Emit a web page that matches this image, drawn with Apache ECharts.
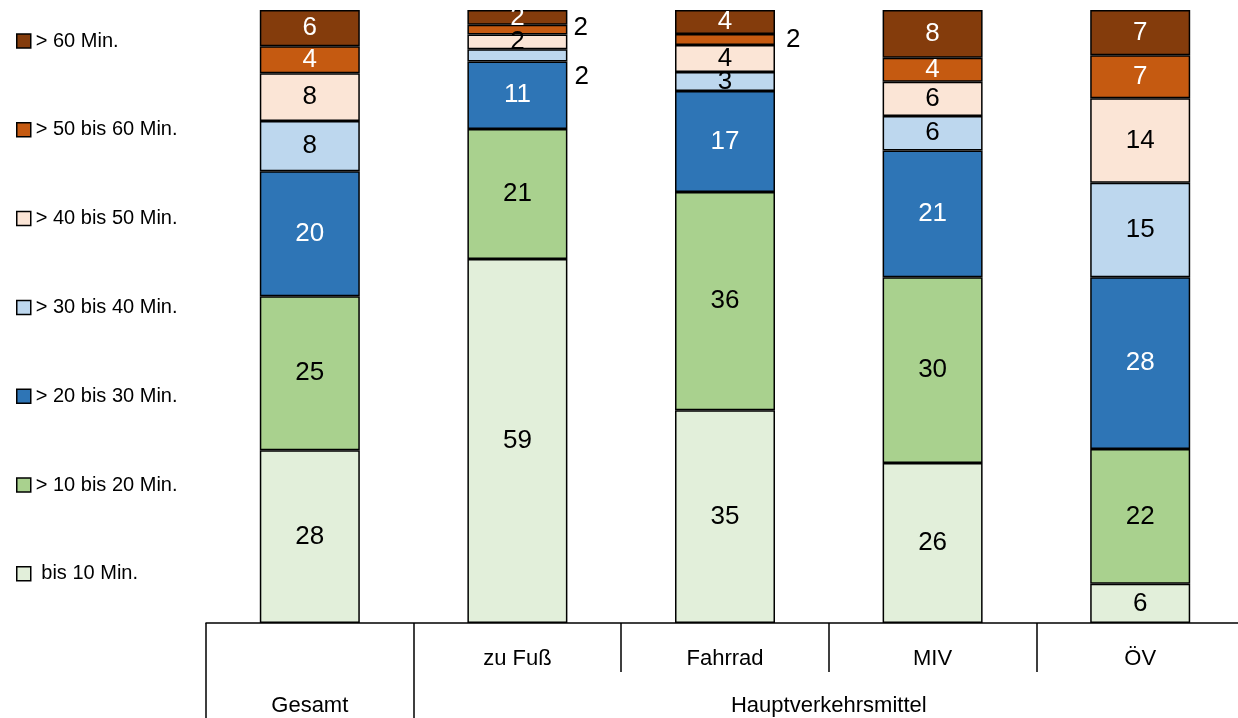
<!DOCTYPE html>
<html>
<head>
<meta charset="utf-8">
<script src="https://cdn.jsdelivr.net/npm/echarts@6/dist/echarts.min.js"></script>
<style>
  html, body { margin: 0; padding: 0; background: #fff; }
  #chart { width: 1238px; height: 718px; }
</style>
</head>
<body>
<div id="chart"></div>
<script>
// Kategorien (untere Achse)
const categories = ['Gesamt', 'zu Fuß', 'Fahrrad', 'MIV', 'ÖV']
const topLabels = ['', 'zu Fuß', 'Fahrrad', 'MIV', 'ÖV']
const groupLabels = ['Gesamt', 'Hauptverkehrsmittel']

// Anteile in % (aus dem Bild geschätzt, Beschriftung gerundet)
const bis10 = [28.2, 59.4, 34.7, 26.1, 6.4]
const bis20 = [25.1, 21.2, 35.6, 30.3, 22.0]
const bis30 = [20.4, 11.0, 16.5, 20.7, 28.0]
const bis40 = [8.2, 2.0, 3.1, 5.6, 15.4]
const bis50 = [7.8, 2.4, 4.4, 5.6, 13.8]
const bis60 = [4.4, 1.6, 1.8, 3.9, 7.0]
const ueber60 = [5.9, 2.4, 3.9, 7.8, 7.4]

const FONT = "'Liberation Sans', Arial, sans-serif"

const seriesDef = [
  { name: 'bis 10 Min.', data: bis10, color: '#E2EFDA', text: '#000' },
  { name: '> 10 bis 20 Min.', data: bis20, color: '#A9D18E', text: '#000' },
  { name: '> 20 bis 30 Min.', data: bis30, color: '#2E75B6', text: '#fff' },
  { name: '> 30 bis 40 Min.', data: bis40, color: '#BDD7EE', text: '#000' },
  { name: '> 40 bis 50 Min.', data: bis50, color: '#FBE5D6', text: '#000' },
  { name: '> 50 bis 60 Min.', data: bis60, color: '#C55A11', text: '#fff' },
  { name: '> 60 Min.', data: ueber60, color: '#843C0C', text: '#fff' },
]

// kleine Segmente: Beschriftung rechts neben dem Balken
// [Serie, Kategorie, offset]
const outside = [
  [5, 1, [1, -2]],
  [3, 1, [2, 21]],
  [5, 2, [6, 0]],
]

const chart = echarts.init(document.getElementById('chart'))

const series = seriesDef.map((s, si) => ({
  name: s.name,
  type: 'bar',
  stack: 'all',
  barWidth: 100,
  itemStyle: { color: s.color, borderColor: '#000', borderWidth: 1.5 },
  label: {
    show: true,
    position: 'inside',
    color: s.text,
    fontFamily: FONT,
    fontSize: 26,
    formatter: (p) => Math.round(p.value),
  },
  data: s.data.map((v, ci) => {
    const o = outside.find((x) => x[0] === si && x[1] === ci)
    if (!o) return v
    return {
      value: v,
      label: { position: 'right', color: '#000', offset: o[2] },
    }
  }),
}))

const option = {
  animation: false,
  legend: {
    orient: 'vertical',
    left: 16,
    top: 31,
    padding: 0,
    itemWidth: 14,
    itemHeight: 14,
    itemGap: 68.8,
    icon: 'rect',
    itemStyle: { borderColor: '#000', borderWidth: 1.5 },
    textStyle: { fontFamily: FONT, fontSize: 20, color: '#000', lineHeight: 20 },
    formatter: (name) => (name.charAt(0) === '>' ? name : ' ' + name),
    data: seriesDef.map((s) => s.name).reverse(),
  },
  grid: {
    left: 206,
    top: 10,
    width: 1038,
    bottom: 95,
    containLabel: false,
    outerBoundsMode: 'none',
  },
  xAxis: [
    {
      type: 'category',
      data: topLabels,
      axisLine: { show: true, lineStyle: { color: '#000', width: 1.5 } },
      axisTick: {
        show: true,
        interval: 0,
        length: 49,
        lineStyle: { color: '#000', width: 1.5 },
      },
      axisLabel: {
        interval: 0,
        margin: 25,
        color: '#000',
        fontFamily: FONT,
        fontSize: 22,
      },
    },
    {
      type: 'value',
      min: 0,
      max: 5,
      position: 'bottom',
      axisLine: { show: false },
      splitLine: { show: false },
      axisTick: {
        show: true,
        customValues: [0, 1],
        length: 95,
        lineStyle: { color: '#000', width: 1.5 },
      },
      axisLabel: {
        customValues: [0.5, 3],
        margin: 72,
        color: '#000',
        fontFamily: FONT,
        fontSize: 22,
        formatter: (v) => (v < 1 ? groupLabels[0] : groupLabels[1]),
      },
    },
  ],
  yAxis: {
    type: 'value',
    min: 0,
    max: 100,
    show: false,
  },
  series: series,
}

chart.setOption(option)
</script>
</body>
</html>
